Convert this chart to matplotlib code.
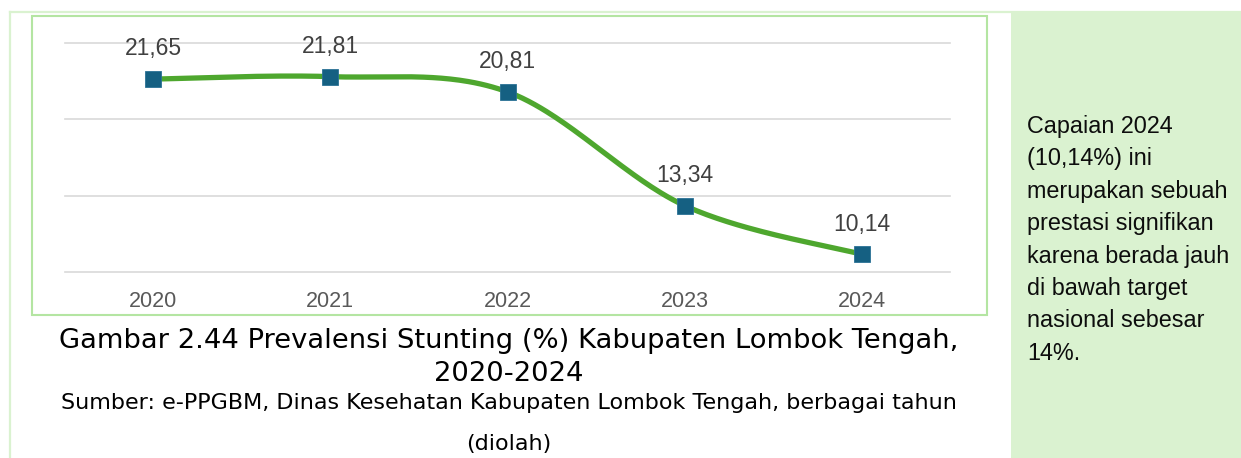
import numpy as np
import matplotlib
matplotlib.use("Agg")
import matplotlib.pyplot as plt
from matplotlib.patches import Rectangle
from matplotlib.lines import Line2D

# data
years = ["2020", "2021", "2022", "2023", "2024"]
prevalence = [21.65, 21.81, 20.81, 13.34, 10.14]
y_grid = [9, 14, 19, 24]

caption_lines = ["Gambar 2.44 Prevalensi Stunting (%) Kabupaten Lombok Tengah,",
                 "2020-2024"]
source_lines = ["Sumber: e-PPGBM, Dinas Kesehatan Kabupaten Lombok Tengah, berbagai tahun",
                "(diolah)"]
note_lines = ["Capaian 2024", "(10,14%) ini", "merupakan sebuah", "prestasi signifikan",
              "karena berada jauh", "di bawah target", "nasional sebesar", "14%."]

GREEN = "#4ea72e"
BLUE = "#156082"
PANEL = "#daf2d0"
FONT = "Liberation Sans"
CAP_FONT = "DejaVu Sans"

W, H = 1241, 458


def fx(px):
    return px / W


def fy(py):
    return 1 - py / H


def smooth(x, y, n=60):
    # Excel-like smoothed line (Catmull-Rom as cubic Bezier)
    p = np.column_stack([x, y]).astype(float)
    p = np.vstack([p[0], p, p[-1]])
    out = []
    t = np.linspace(0, 1, n)[:, None]
    for i in range(1, len(p) - 2):
        p0, p1, p2, p3 = p[i - 1], p[i], p[i + 1], p[i + 2]
        c1 = p1 + (p2 - p0) / 6
        c2 = p2 - (p3 - p1) / 6
        seg = ((1 - t) ** 3) * p1 + 3 * ((1 - t) ** 2) * t * c1 + 3 * (1 - t) * t ** 2 * c2 + t ** 3 * p2
        out.append(seg)
    out = np.vstack(out)
    return out[:, 0], out[:, 1]


fig = plt.figure(figsize=(W / 100, H / 100), dpi=100)

# frames and side panel
fig.add_artist(Rectangle((fx(1011), 0), 1 - fx(1011), fy(12), transform=fig.transFigure,
                         facecolor=PANEL, edgecolor="none", zorder=0))
fig.add_artist(Line2D([fx(10), 1], [fy(12), fy(12)], transform=fig.transFigure,
                      color=PANEL, lw=1.6, zorder=0))
fig.add_artist(Line2D([fx(10), fx(10)], [fy(12), 0], transform=fig.transFigure,
                      color=PANEL, lw=1.6, zorder=0))
fig.add_artist(Rectangle((fx(32), fy(315)), fx(987) - fx(32), fy(16) - fy(315),
                         transform=fig.transFigure, facecolor="none", edgecolor="#b4e5a2",
                         lw=1.5, zorder=0))

ax = fig.add_axes([fx(64.5), fy(271.7), fx(950.5) - fx(64.5), fy(43.3) - fy(271.7)])
ax.set_facecolor("none")
x = np.arange(len(years))
ax.set_xlim(-0.5, len(years) - 0.5)
ax.set_ylim(y_grid[0], y_grid[-1])
for g in y_grid:
    ax.axhline(g, color="#d9d9d9", lw=1.2, zorder=1, clip_on=False)
for s in ax.spines.values():
    s.set_visible(False)
ax.set_yticks([])
ax.set_xticks(x)
ax.set_xticklabels(years, fontsize=15.5, color="#595959", fontfamily=FONT)
ax.tick_params(axis="x", length=0, pad=14)

sx, sy = smooth(x, prevalence)
ax.plot(sx, sy, color=GREEN, lw=3.8, solid_capstyle="round", zorder=3)
ax.plot(x, prevalence, ls="none", marker="s", ms=11, mfc=BLUE, mec="#2a7196", mew=0.6, zorder=4)
for xi, v in zip(x, prevalence):
    ax.annotate(f"{v:.2f}".replace(".", ","), (xi, v), xytext=(0, 17), textcoords="offset points",
                ha="center", va="baseline", fontsize=16.5, color="#404040", fontfamily=FONT)

# caption
cx = 0.5 * (fx(62) + fx(956))
fig.text(cx, fy(348), caption_lines[0], ha="center", va="baseline",
         fontsize=19.7, color="#000000", fontfamily=CAP_FONT)
fig.text(cx, fy(381), caption_lines[1], ha="center", va="baseline",
         fontsize=19.7, color="#000000", fontfamily=CAP_FONT)
fig.text(cx, fy(409), source_lines[0], ha="center", va="baseline",
         fontsize=16, color="#000000", fontfamily=CAP_FONT)
fig.text(cx, fy(450), source_lines[1], ha="center", va="baseline",
         fontsize=16, color="#000000", fontfamily=CAP_FONT)

# side note
for i, line in enumerate(note_lines):
    fig.text(fx(1027), fy(133 + 32.4 * i), line, ha="left", va="baseline",
             fontsize=16.8, color="#0d0d0d", fontfamily=FONT)

fig.savefig("out.png", dpi=100)
